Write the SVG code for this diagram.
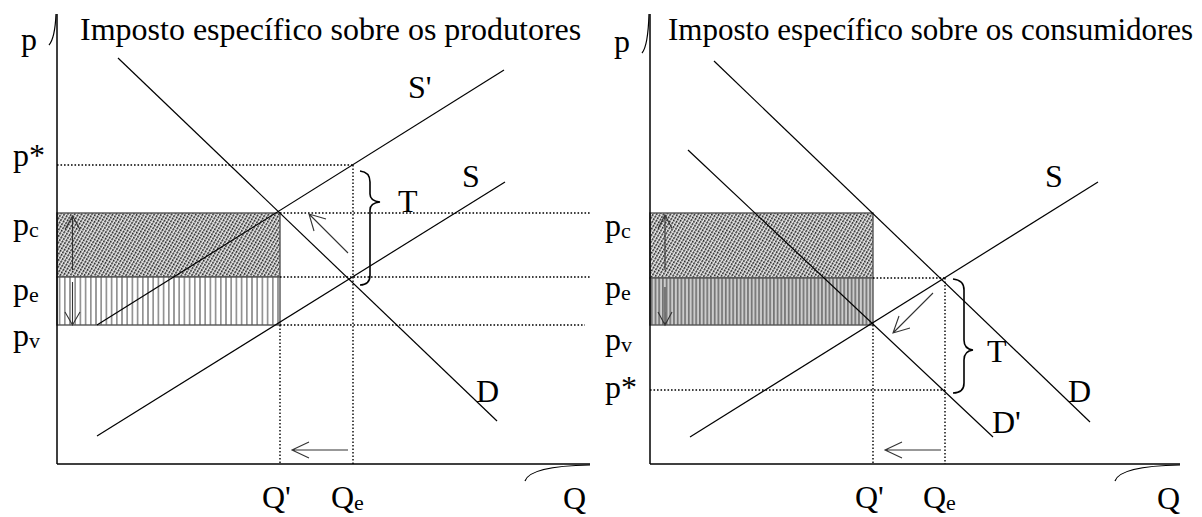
<svg xmlns="http://www.w3.org/2000/svg" width="1202" height="517" viewBox="0 0 1202 517">
<defs>
<pattern id="diag" patternUnits="userSpaceOnUse" width="3" height="3" patternTransform="rotate(30)">
<rect width="3" height="3" fill="#eee"/>
<line x1="0.8" y1="0" x2="0.8" y2="3" stroke="#222" stroke-width="1.5" stroke-dasharray="2.2,0.8"/>
</pattern>
<pattern id="vertL" patternUnits="userSpaceOnUse" width="5.2" height="10" x="57">
<rect width="5.2" height="10" fill="#fff"/>
<line x1="2.6" y1="0" x2="2.6" y2="10" stroke="#555" stroke-width="1.1"/>
</pattern>
<pattern id="vertR" patternUnits="userSpaceOnUse" width="3.7" height="10" x="650">
<rect width="3.7" height="10" fill="#ccc"/>
<line x1="1.8" y1="0" x2="1.8" y2="10" stroke="#444" stroke-width="1.1"/>
</pattern>
</defs>
<style>
text{font-family:"Liberation Serif","Times New Roman",serif;fill:#000;}
.lbl{font-size:32px;}
.ttl{font-size:31px;}
.sub{font-size:22px;}
.ax{stroke:#000;stroke-width:1.5;fill:none;}
.ln{stroke:#000;stroke-width:1.2;fill:none;}
.dot{stroke:#000;stroke-width:1.4;stroke-dasharray:1.6,1.9;fill:none;}
.arr{stroke:#333;stroke-width:1.1;fill:none;}
.brace{stroke:#000;stroke-width:1.6;fill:none;}
.box{stroke:#555;stroke-width:1.4;}
</style>

<g id="left-panel">
<g id="left-areas">
<rect class="box" x="57" y="213" width="223" height="64" fill="url(#diag)"/>
<rect class="box" x="57" y="277" width="223" height="48" fill="url(#vertL)"/>
</g>
<g id="left-axes">
<line class="ax" x1="57" y1="14" x2="57" y2="464"/>
<path class="ln" d="M49,45 Q55,38 56,14"/>
<line class="ax" x1="57" y1="464" x2="590" y2="464"/>
<path class="ln" d="M525,481 Q530,466 590,465"/>
</g>
<g id="left-connectors">
<line class="dot" x1="57" y1="165" x2="353" y2="165"/>
<line class="dot" x1="280" y1="213" x2="590" y2="213"/>
<line class="dot" x1="280" y1="277" x2="590" y2="277"/>
<line class="dot" x1="280" y1="325" x2="585" y2="325"/>
<line class="dot" x1="280" y1="325" x2="280" y2="464"/>
<line class="dot" x1="353" y1="165" x2="353" y2="464"/>
<line class="ln" x1="118" y1="58" x2="497" y2="421"/>
<line class="ln" x1="97" y1="325" x2="504" y2="70"/>
<line class="ln" x1="97" y1="436" x2="505" y2="182"/>
<path class="arr" d="M72.5,270 L72.5,216 M65,229.5 L72.5,216 L80,229.5"/>
<path class="arr" d="M72.5,282 L72.5,325 M65,312 L72.5,325 L80,312"/>
<path class="arr" d="M348,253 L309,214 M326,219 L309,214 L314,231"/>
<path class="arr" d="M348,450 L292,450 M309,442 L292,450 L309,458"/>
<path class="brace" d="M360,171 Q370,172 370,182 L370,194 Q370,201 380,202 Q370,203 370,210 L370,275 Q370,285 360,285"/>
</g>
<g id="left-labels">
<text class="lbl" x="80" y="40">Imposto específico sobre os produtores</text>
<text class="lbl" x="21" y="50">p</text>
<text class="lbl" x="13" y="166">p*</text>
<text class="lbl" x="13" y="235">p<tspan class="sub" dy="2">c</tspan></text>
<text class="lbl" x="13" y="300">p<tspan class="sub" dy="2">e</tspan></text>
<text class="lbl" x="13" y="346">p<tspan class="sub" dy="2">v</tspan></text>
<text class="lbl" x="408" y="98">S'</text>
<text class="lbl" x="462" y="187">S</text>
<text class="lbl" x="398" y="212">T</text>
<text class="lbl" x="476" y="402">D</text>
<text class="lbl" x="262" y="508">Q'</text>
<text class="lbl" x="331" y="508">Q<tspan class="sub" dy="2">e</tspan></text>
<text class="lbl" x="563" y="509">Q</text>
</g>
</g>

<g id="right-panel">
<g id="right-areas">
<rect class="box" x="650" y="213" width="223" height="65" fill="url(#diag)"/>
<rect class="box" x="650" y="278" width="223" height="47" fill="url(#vertR)"/>
</g>
<g id="right-axes">
<line class="ax" x1="650" y1="14" x2="650" y2="464"/>
<path class="ln" d="M642,53 Q648,46 649,14"/>
<line class="ax" x1="650" y1="464" x2="1180" y2="464"/>
<path class="ln" d="M1115,481 Q1120,466 1180,465"/>
</g>
<g id="right-connectors">
<line class="dot" x1="873" y1="278" x2="945" y2="278"/>
<line class="dot" x1="650" y1="390" x2="945" y2="390"/>
<line class="dot" x1="873" y1="325" x2="873" y2="464"/>
<line class="dot" x1="945" y1="278" x2="945" y2="464"/>
<line class="ln" x1="714" y1="61" x2="1090" y2="422"/>
<line class="ln" x1="688" y1="150" x2="993" y2="437"/>
<line class="ln" x1="690" y1="437" x2="1098" y2="182"/>
<path class="arr" d="M665,270 L665,215 M658,228.5 L665,215 L672,228.5"/>
<path class="arr" d="M665,287 L665,325 M658,312 L665,325 L672,312"/>
<line x1="665" y1="287" x2="665" y2="312" stroke="#777" stroke-width="2.5"/>
<path class="arr" d="M933,293 L893,333 M910,328 L893,333 L899,316"/>
<path class="arr" d="M941,450 L885,450 M902,442 L885,450 L902,458"/>
<path class="brace" d="M953,279 Q964,280 964,290 L964,340 Q964,349 973,350 Q964,351 964,360 L964,383 Q964,393 953,393"/>
</g>
<g id="right-labels">
<text class="ttl" x="668" y="40">Imposto específico sobre os consumidores</text>
<text class="lbl" x="614" y="52">p</text>
<text class="lbl" x="605" y="236">p<tspan class="sub" dy="2">c</tspan></text>
<text class="lbl" x="605" y="298">p<tspan class="sub" dy="2">e</tspan></text>
<text class="lbl" x="605" y="350">p<tspan class="sub" dy="2">v</tspan></text>
<text class="lbl" x="605" y="398">p*</text>
<text class="lbl" x="1045" y="187">S</text>
<text class="lbl" x="987" y="362">T</text>
<text class="lbl" x="1068" y="402">D</text>
<text class="lbl" x="992" y="433">D'</text>
<text class="lbl" x="855" y="508">Q'</text>
<text class="lbl" x="923" y="508">Q<tspan class="sub" dy="2">e</tspan></text>
<text class="lbl" x="1157" y="509">Q</text>
</g>
</g>
</svg>
